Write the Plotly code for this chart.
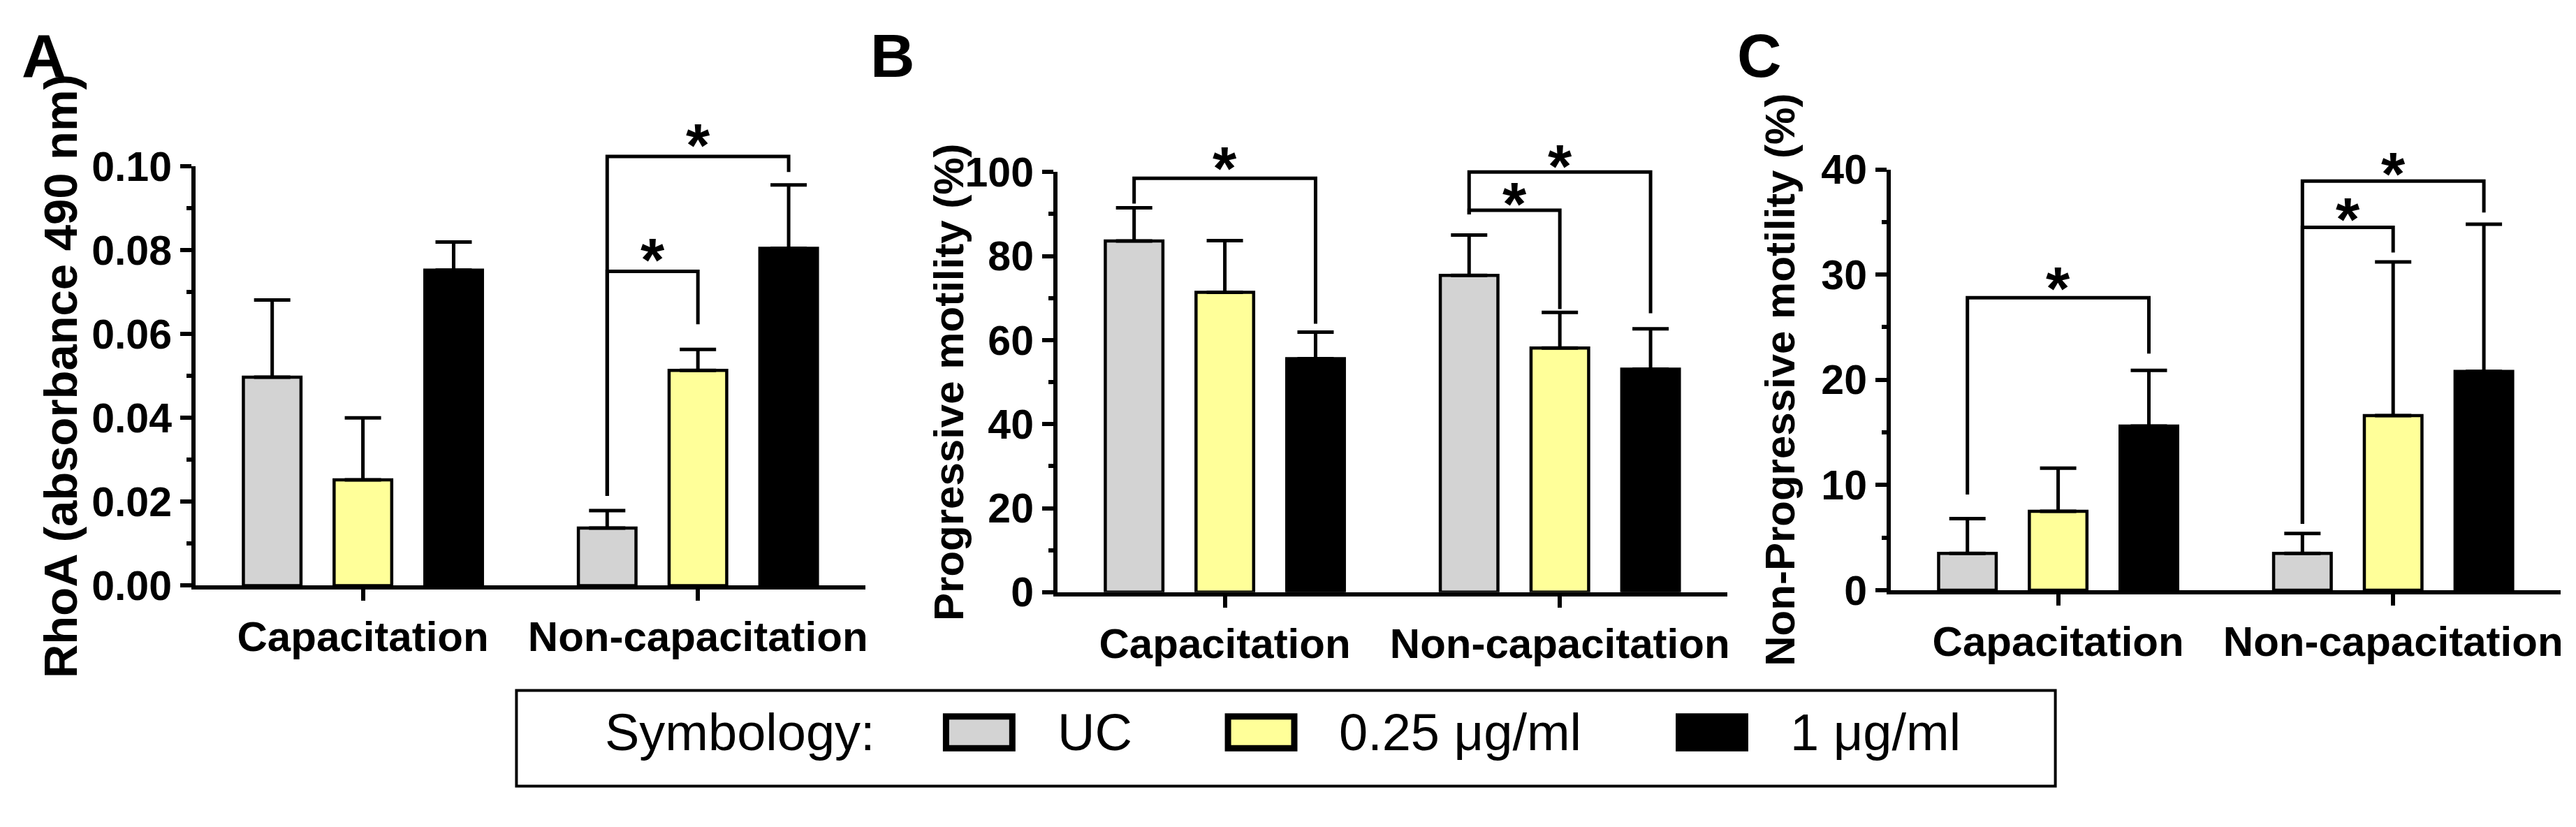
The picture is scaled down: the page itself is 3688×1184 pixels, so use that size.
import plotly.graph_objects as go

W, H = 3688, 1184
FONT = "Liberation Sans, Arial, sans-serif"

# ---------------- data ----------------
groups = ["Capacitation", "Non-capacitation"]
doses = ["UC", "0.25 μg/ml", "1 μg/ml"]
dose_colors = ["#D3D3D3", "#FFFF99", "#000000"]

# rows = dose (UC, 0.25, 1), cols = group (Capacitation, Non-capacitation)
rhoa_mean = [[0.0497, 0.0137], [0.0252, 0.0513], [0.0752, 0.0804]]
rhoa_sd = [[0.0184, 0.0042], [0.0148, 0.0050], [0.0067, 0.0151]]

prog_mean = [[83.6, 75.4], [71.4, 58.1], [55.6, 53.1]]
prog_sd = [[7.9, 9.6], [12.3, 8.5], [6.3, 9.6]]

nonprog_mean = [[3.5, 3.5], [7.5, 16.6], [15.6, 20.8]]
nonprog_sd = [[3.3, 1.9], [4.1, 14.6], [5.3, 14.0]]

# significance brackets: (group, dose_from, dose_to, y_bar, y_left_end, y_right_end, y_star)
rhoa_brackets = [(1, 0, 2, 0.1023, 0.0214, 0.0986, 0.1075),
                 (1, 0, 1, 0.0749, 0.0214, 0.0623, 0.0802)]
prog_brackets = [(0, 0, 2, 98.5, 92.5, 63.9, 103.5),
                 (1, 0, 2, 100.0, 89.9, 66.4, 104.0),
                 (1, 0, 1, 90.9, 89.9, 67.4, 95.0)]
nonprog_brackets = [(0, 0, 2, 27.8, 9.1, 22.5, 29.7),
                    (1, 0, 2, 38.9, 6.3, 35.9, 40.6),
                    (1, 0, 1, 34.5, 6.3, 32.1, 36.3)]

panel_letters = ["A", "B", "C"]
y_titles = ["RhoA (absorbance 490 nm)", "Progressive motility (%)", "Non-Progressive motility (%)"]
y_max = [0.10, 100, 40]
y_dtick = [0.02, 20, 10]
y_minor = [0.01, 10, 5]
y_format = [".2f", "d", "d"]
legend_title = "Symbology:"

means = [rhoa_mean, prog_mean, nonprog_mean]
sds = [rhoa_sd, prog_sd, nonprog_sd]
brackets = [rhoa_brackets, prog_brackets, nonprog_brackets]

# ---------------- layout geometry (pixels) ----------------
X_DOM = [(280, 1240), (1515, 2475), (2709, 3669)]
Y_DOM = [(218, 854), (227, 864), (223, 861)]   # (top, bottom) pixel rows
LETTER_POS = [(63, 50), (1279, 50), (2521, 50)]
TITLE_X = [86, 1359, 2551]
TITLE_SIZE = [67, 60, 60]

BARGAP = 0.1875
BARGROUPGAP = 0.365
SLOT = (1 - BARGAP) / 3


def px(x):
    return x / W


def py(y):
    return 1 - y / H


fig = go.Figure()
annotations = []
shapes = []
layout = {}

for p in range(3):
    n = "" if p == 0 else str(p + 1)
    no = str(p + 4)
    xa, ya = "x" + n, "y" + n
    xo, yo = "x" + no, "y" + no
    x0, x1 = X_DOM[p]
    ytop, ybot = Y_DOM[p]
    ydom = [py(ybot), py(ytop)]

    for d in range(3):
        fig.add_trace(go.Bar(
            x=[0, 1], y=means[p][d], name=doses[d],
            marker=dict(color=dose_colors[d], line=dict(color="black", width=4.5)),
            error_y=dict(type="data", array=sds[p][d], arrayminus=[0, 0], symmetric=False,
                         color="black", thickness=5, width=26),
            xaxis=xa, yaxis=ya, showlegend=False, hoverinfo="skip"))

    layout["xaxis" + n] = dict(
        domain=[px(x0), px(x1)], anchor=ya, range=[-0.5, 1.5],
        tickvals=[0, 1], ticktext=groups, showline=True, linewidth=6, linecolor="black",
        ticks="outside", ticklen=16, tickwidth=6, tickcolor="black",
        tickfont=dict(family=FONT, size=60, color="black", weight="bold"),
        showgrid=False, zeroline=False, fixedrange=True)
    layout["yaxis" + n] = dict(
        domain=ydom, anchor=xa, range=[0, y_max[p]], dtick=y_dtick[p], tick0=0,
        tickformat=y_format[p], showline=True, linewidth=6, linecolor="black",
        ticks="outside", ticklen=16, tickwidth=6, tickcolor="black",
        minor=dict(dtick=y_minor[p], ticks="outside", ticklen=7, tickwidth=6, tickcolor="black"),
        tickfont=dict(family=FONT, size=59, color="black", weight="bold"),
        showgrid=False, zeroline=False, fixedrange=True)

    # overlay axes (same scale, taller domain) for significance brackets
    ext = y_max[p] * (1 - ydom[0]) / (ydom[1] - ydom[0])
    layout["xaxis" + no] = dict(domain=[px(x0), px(x1)], anchor=yo, range=[-0.5, 1.5],
                                visible=False, fixedrange=True)
    layout["yaxis" + no] = dict(domain=[ydom[0], 1.0], anchor=xo, range=[0, ext],
                                visible=False, fixedrange=True)

    for (g, da, db, ybar, yl, yr, ys) in brackets[p]:
        xl = g + (da - 1) * SLOT
        xr = g + (db - 1) * SLOT
        fig.add_trace(go.Scatter(
            x=[xl, xl, xr, xr], y=[yl, ybar, ybar, yr], mode="lines",
            line=dict(color="black", width=5), xaxis=xo, yaxis=yo,
            showlegend=False, hoverinfo="skip"))
        annotations.append(dict(
            x=(xl + xr) / 2, y=ys, xref=xo, yref=yo, text="*", showarrow=False,
            xanchor="center", yanchor="middle", yshift=-15,
            font=dict(family=FONT, size=88, color="black", weight="bold")))

    # y-axis title
    annotations.append(dict(
        x=px(TITLE_X[p]), y=py((ytop + ybot) / 2), xref="paper", yref="paper",
        text=y_titles[p], textangle=-90, showarrow=False, xanchor="center", yanchor="middle",
        font=dict(family=FONT, size=TITLE_SIZE[p], color="black", weight="bold")))

    # panel letter
    lx, ly = LETTER_POS[p]
    annotations.append(dict(
        x=px(lx), y=py(ly), xref="paper", yref="paper", text=panel_letters[p],
        showarrow=False, xanchor="center", yanchor="middle",
        font=dict(family=FONT, size=88, color="black", weight="bold")))

# ---------------- legend box ----------------
BOX = (740, 1013, 2945, 1158)
shapes.append(dict(type="rect", xref="paper", yref="paper",
                   x0=px(BOX[0]), x1=px(BOX[2]), y0=py(BOX[3]), y1=py(BOX[1]),
                   line=dict(color="black", width=4), fillcolor="rgba(0,0,0,0)"))
LEG_Y_MID = 1076
annotations.append(dict(x=px(865), y=py(LEG_Y_MID), xref="paper", yref="paper",
                        text=legend_title, showarrow=False, xanchor="left", yanchor="middle",
                        font=dict(family=FONT, size=74, color="black")))
SWATCH_X = [1351, 1755, 2401]
SW_W, SW_TOP, SW_BOT, SW_LW = 104, 1048, 1105, 9
for d in range(3):
    sx = SWATCH_X[d]
    shapes.append(dict(type="rect", xref="paper", yref="paper",
                       x0=px(sx + SW_LW / 2), x1=px(sx + SW_W - SW_LW / 2),
                       y0=py(SW_BOT - SW_LW / 2), y1=py(SW_TOP + SW_LW / 2),
                       line=dict(color="black", width=SW_LW), fillcolor=dose_colors[d]))
    annotations.append(dict(x=px(sx + SW_W + 58), y=py(LEG_Y_MID), xref="paper", yref="paper",
                            text=doses[d], showarrow=False, xanchor="left", yanchor="middle",
                            font=dict(family=FONT, size=74, color="black")))

fig.update_layout(
    width=W, height=H, margin=dict(l=0, r=0, t=0, b=0),
    paper_bgcolor="white", plot_bgcolor="rgba(0,0,0,0)",
    barmode="group", bargap=BARGAP, bargroupgap=BARGROUPGAP,
    showlegend=False, font=dict(family=FONT, color="black"),
    annotations=annotations, shapes=shapes, **layout)

fig.write_html("out.html", config={"displayModeBar": False},
               post_script="document.body.style.margin='0px';document.body.style.overflow='hidden';")
